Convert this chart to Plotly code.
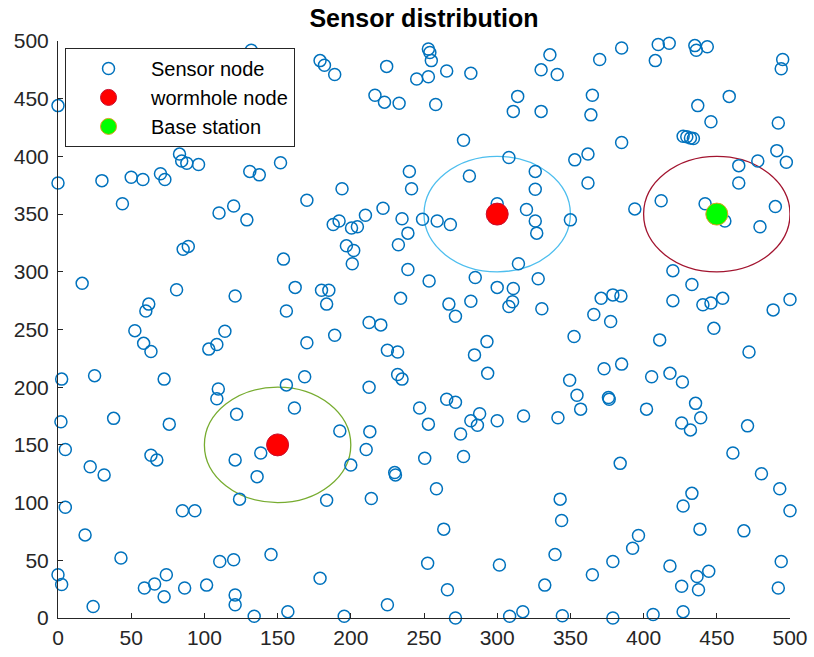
import plotly.graph_objects as go

# Sensor node coordinates (field is 500 x 500)
sensor_x = [
    0, 83, 84.5, 88, 96, 0, 30, 50, 58, 70, 73, 44, 110, 120, 129, 131, 137.5, 132,
    179, 182, 189, 224.5, 216.5, 223, 233, 245, 253, 253, 254, 255, 258, 152, 194, 170,
    240, 241.5, 188, 192, 200.5, 204.5, 210, 222, 235, 249, 239,
    265.5, 282, 336, 330, 341, 370, 385, 314, 311, 330, 365, 364, 277, 385, 308, 353,
    362, 281, 326, 326, 362, 320, 326, 327, 350, 259, 268, 300, 298,
    410, 417.5, 408, 435, 436, 443.5, 495, 494, 458.5, 437, 446, 492, 427, 429.5, 432,
    434, 491, 497.5, 478, 465, 465, 412, 394, 442, 455.5, 490, 479.5,
    85.5, 89, 16.5, 81, 121, 62, 60, 52.5, 58.5, 63.5, 114, 108.5, 103, 2.5, 25, 72.5,
    109.5, 108.5, 122, 2, 38, 76,
    154, 197, 202, 201, 232.5, 239, 253.5, 162, 180, 185, 183.5, 156, 234, 212.5, 220.5,
    189, 170, 225, 232, 168.5, 156, 232, 235, 212.5, 161.5, 247, 253, 192.5, 213,
    314.5, 285, 300, 311, 328, 267, 271.5, 282, 310.5, 308, 330.5, 371, 379, 384.5, 366,
    377.5, 352.5, 293, 284.5, 293.5, 385, 373, 349.5, 354.5, 376, 376.5, 357, 265.5,
    271.5, 288, 282, 286.5, 300, 318, 341.5, 275,
    420, 433, 420, 440.5, 446, 454, 488.5, 500, 448, 411, 472, 405.5, 418, 426.5, 402,
    435.5, 439, 426, 432, 471,
    5, 22, 31.5, 63.5, 67.5, 121, 124, 5, 85, 93.5, 18.5, 43, 110.5, 120, 0, 2.5, 24,
    59, 66, 74, 72.5, 86.5, 101.5, 121, 121,
    138.5, 136, 210.5, 200, 230, 230.5, 250.5, 258.5, 183.5, 214, 145.5, 179, 134, 157,
    195.5, 225, 252.5,
    277, 263.5, 266, 271.5, 301.5, 308.5, 317.5, 343, 344, 339.5, 332.5, 344.5, 365,
    379, 379, 384,
    461, 480.5, 493, 500, 433, 427, 438.5, 468.5, 396.5, 392.5, 494, 418, 436.5, 444.5,
    426, 437.5, 492, 406.5, 427,
]
sensor_y = [
    444, 402, 396, 394, 393, 377, 379, 382, 380, 385, 380, 359, 351, 357, 345, 387, 384, 492,
    483, 479, 471, 478, 453, 447, 446, 467, 469, 493, 490, 483, 445, 394.5, 372, 362,
    387, 372, 341, 344, 338, 339, 349, 355, 346, 345.5, 333.5,
    474, 472, 488, 475, 471, 484, 494, 452, 439, 439, 453, 436, 414, 412, 399, 397,
    402, 383, 387, 371.5, 377, 354, 344, 333.5, 345, 344, 341, 359, 347,
    497, 498, 483, 496, 492, 495, 484, 476, 452, 444, 430, 429, 417.5, 417, 416,
    415.5, 405, 395, 396, 392, 377, 361.5, 354.5, 359, 344, 356.5, 339,
    319.5, 322, 290, 284.5, 279, 272, 266, 249, 238, 231, 248.5, 237, 233, 207, 210, 207,
    198.5, 190, 176.5, 170, 173, 168,
    311, 322.5, 318.5, 307, 323.5, 302, 292, 286.5, 284, 284, 272, 266, 277, 256, 254,
    245, 238.5, 232, 230.5, 209, 202, 211, 207, 200, 182, 182, 168, 162, 161.5,
    307, 295, 286.5, 285.5, 294, 272, 261.5, 274.5, 274, 270, 268, 277, 280, 279, 263,
    257, 244, 239.5, 228, 212, 220, 216, 206, 193, 191, 189.5, 181, 189.5,
    187, 177, 171, 167, 171, 175, 173.5, 159.5,
    301, 289, 275, 271.5, 273, 277, 267, 276, 251, 241, 230.5, 209, 212, 204.5, 181,
    186, 173.5, 169, 163, 166.5,
    146, 131, 124, 141, 137, 137, 103, 96, 93, 93, 72, 52, 49, 50.5, 37.5, 29, 10,
    26, 29.5, 37.5, 18.5, 26, 28.5, 20, 11.5,
    143, 122.5, 146, 132.5, 126, 124, 138.5, 112, 102, 103.5, 55, 34.5, 1.5, 5.5,
    1.5, 11.5, 47.5,
    140, 77, 24.5, 0, 46, 1.5, 5.5, 103, 84.5, 55, 28.5, 2, 37.5,
    49, 0, 134,
    143, 125, 112, 93, 108, 97, 77, 75.5, 71.5, 60.5, 49, 45, 36, 40.5,
    27.5, 24.5, 26, 3, 5.5,
]

# Wormhole nodes and the base station
wormhole_x = [150, 300]
wormhole_y = [150, 350]
base_x = [450]
base_y = [350]

# Coverage circles: centre and radius
circle_cx = [150, 300, 450]
circle_cy = [150, 350, 350]
circle_r = [50, 50, 50]
circle_colors = ["#77AC30", "#4DBEEE", "#A2142F"]

ticks = list(range(0, 501, 50))
axis_color = "#262626"
font_family = "Liberation Sans, Arial, sans-serif"

fig = go.Figure()

fig.add_trace(go.Scatter(
    x=sensor_x, y=sensor_y, mode="markers", name="Sensor node",
    marker=dict(symbol="circle-open", size=12, color="#0072BD",
                line=dict(width=1.5, color="#0072BD")),
    cliponaxis=False,
))
fig.add_trace(go.Scatter(
    x=wormhole_x, y=wormhole_y, mode="markers", name="wormhole node",
    marker=dict(symbol="circle", size=22, color="#FF0000",
                line=dict(width=1, color="#C8102E")),
    cliponaxis=False,
))
fig.add_trace(go.Scatter(
    x=base_x, y=base_y, mode="markers", name="Base station",
    marker=dict(symbol="circle", size=22, color="#00FF00",
                line=dict(width=1, color="#E0A020")),
    cliponaxis=False,
))

for cx, cy, r, col in zip(circle_cx, circle_cy, circle_r, circle_colors):
    fig.add_shape(type="circle", xref="x", yref="y",
                  x0=cx - r, x1=cx + r, y0=cy - r, y1=cy + r,
                  line=dict(color=col, width=1.3), layer="below")

axis_common = dict(
    range=[0, 500], tickvals=ticks, ticktext=[str(t) for t in ticks],
    showgrid=False, zeroline=False, showline=True, linecolor=axis_color,
    linewidth=1, ticks="inside", ticklen=5, tickcolor=axis_color,
    tickfont=dict(family=font_family, size=21, color=axis_color),
    mirror=False, automargin=False,
)

fig.update_layout(
    width=814, height=657,
    margin=dict(l=58, r=24, t=41, b=39),
    paper_bgcolor="white", plot_bgcolor="white",
    xaxis=dict(axis_common, ticklabelstandoff=1),
    yaxis=dict(axis_common, ticklabelstandoff=4),
    title=dict(text="<b>Sensor distribution</b>", x=0.5, xref="paper",
               y=1 - 18 / 657, yref="container", yanchor="middle", xanchor="center",
               font=dict(family=font_family, size=25, color="#000000")),
    legend=dict(x=0.0096, y=0.988, xanchor="left", yanchor="top",
                bgcolor="white", bordercolor=axis_color, borderwidth=1,
                font=dict(family=font_family, size=20, color="#000000"),
                itemwidth=75, tracegroupgap=0),
    showlegend=True,
)

fig.write_html("out.html")
